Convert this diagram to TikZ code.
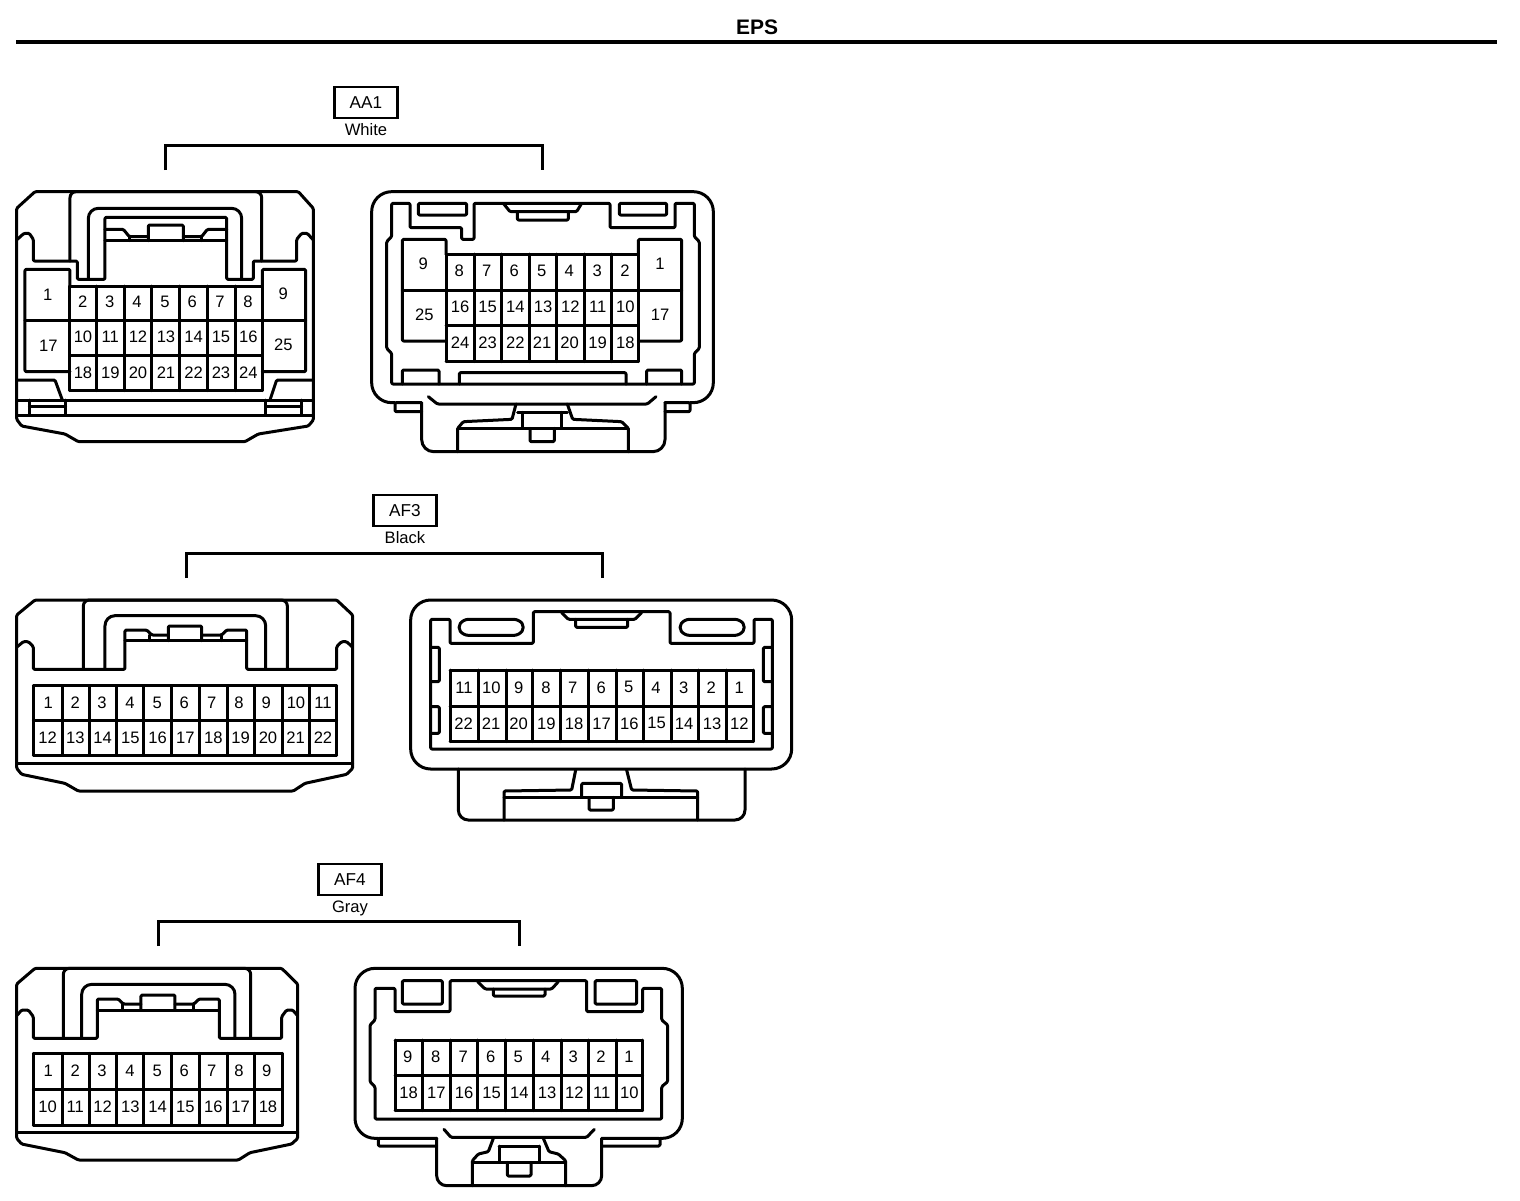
\documentclass[tikz,border=0pt]{standalone}
\usepackage{fontspec}
\setmainfont{Liberation Sans}
\tikzset{
  ln/.style={line width=1.5pt,line join=round,line cap=round,rounded corners=0.6pt},
  pinlabel/.style={inner sep=0pt,font=\fontsize{8.3}{10}\selectfont},
  caplabel/.style={inner sep=0pt,anchor=base,font=\fontsize{8.3}{10}\selectfont},
  tagbox/.style={draw,line width=1.2pt,minimum width=31.5pt,minimum height=15.5pt,inner sep=0pt,font=\fontsize{8.6}{10}\selectfont},
  bracket/.style={line width=1.5pt,line join=miter},
  zone/.style={scale=0.33333}
}
\newcommand\pinrow[3]{\foreach \x/\l in {#3} \node[pinlabel] (#1\l) at (\x,#2) {\l};}
\newcommand\gridv[3]{\foreach \x in {#1} \draw[ln] (\x,#2)--(\x,#3);}
\newcommand\gridh[3]{\foreach \y in {#1} \draw[ln] (#2,\y)--(#3,\y);}
\begin{document}
\begin{tikzpicture}[x=0.5pt,y=-0.5pt]
\path[fill=white,use as bounding box] (0,0) rectangle (1520,1200);
% title
\node[inner sep=0pt,font=\fontsize{10.5}{12}\bfseries\selectfont] (title) at (757,27) {EPS};
\coordinate (rulel) at (16,42); \coordinate (ruler) at (1497,42);
\draw[line width=2pt] (rulel)--(ruler);
% headers
\node[tagbox] (aa1) at (366,102.5) {AA1};
\node[caplabel] (white) at (366,135) {White};
\coordinate (b1l) at (165,170); \coordinate (b1r) at (542,170);
\draw[bracket] (b1l) -- ++(0,-25) -| (b1r);
\node[tagbox] (af3) at (405,510.5) {AF3};
\node[caplabel] (black) at (405,543) {Black};
\coordinate (b2l) at (186,578); \coordinate (b2r) at (602,578);
\draw[bracket] (b2l) -- ++(0,-25) -| (b2r);
\node[tagbox] (af4) at (350,879.5) {AF4};
\node[caplabel] (gray) at (350,912) {Gray};
\coordinate (b3l) at (158,946); \coordinate (b3r) at (519,946);
\draw[bracket] (b3l) -- ++(0,-25) -| (b3r);

% ---------- AA1 left
\begin{scope}[shift={(0,180)},zone]
\draw[ln] (105,35)--(895,35)--(940,85)--(940,720)--(925,738)--(775,762)--(735,785)--(235,785)--(195,762)--(65,738)--(50,718)--(50,85)--cycle;
\draw[ln] (52,178)--(72,160)--(88,160)--(100,178)--(100,243)--(232,243)--(232,298)--(315,298)--(315,112)--(680,112)--(680,298)--(760,298)--(760,243)--(890,243)--(890,178)--(905,160)--(922,160)--(938,178);
\draw[ln,rounded corners=3pt] (210,243)--(210,35)--(785,35)--(785,243);
\draw[ln,rounded corners=5pt] (265,298)--(265,85)--(725,85)--(725,298);
\draw[ln] (315,148)--(370,148)--(388,170)--(445,170);
\draw[ln] (445,182)--(445,135)--(550,135)--(550,182);
\draw[ln] (550,170)--(605,170)--(622,148)--(680,148);
\draw[ln] (315,182)--(680,182);
\draw[ln] (388,170)--(388,182); \draw[ln] (605,170)--(605,182);
\gridv{210,290,373,455,540,622,706,787}{318}{632}
\gridh{318,422,525,632}{210}{787}
\draw[ln] (210,318)--(210,268)--(75,268)--(75,575)--(210,575);
\draw[ln] (787,318)--(787,268)--(917,268)--(917,575)--(787,575);
\draw[ln] (75,422)--(210,422); \draw[ln] (787,422)--(917,422);
\node[pinlabel] (a1) at (143,343) {1};
\node[pinlabel] (a17) at (145,498) {17};
\node[pinlabel] (a9) at (850,342) {9};
\node[pinlabel] (a25) at (850,495) {25};
\pinrow{a}{365}{248/2,329/3,411/4,495/5,577/6,660/7,744/8}
\pinrow{a}{470}{249/10,331/11,414/12,498/13,581/14,663/15,745/16}
\pinrow{a}{577}{249/18,331/19,414/20,498/21,581/22,663/23,745/24}
\draw[ln] (50,600)--(165,600)--(187,660);
\draw[ln] (940,600)--(830,600)--(810,660);
\draw[ln] (50,660)--(940,660);
\draw[ln] (50,705)--(940,705);
\draw[ln] (88,660)--(88,705); \draw[ln] (197,660)--(197,705);
\draw[ln] (88,680)--(197,680);
\draw[ln] (798,660)--(798,705); \draw[ln] (905,660)--(905,705);
\draw[ln] (798,680)--(905,680);
\end{scope}

% ---------- AA1 right
\begin{scope}[shift={(360,180)},zone]
\draw[ln,rounded corners=10pt] (105,668)--(35,668)--(35,35)--(1060,35)--(1060,668)--(990,668);
\draw[ln] (185,668)--(105,668)--(105,695)--(185,695);
\draw[ln] (915,668)--(990,668)--(990,695)--(915,695);
\draw[ln,rounded corners=6pt] (185,668)--(185,815)--(915,815)--(915,668);
\draw[ln] (95,70)--(150,70)--(150,143)--(305,143)--(305,178)--(342,178)--(342,70)--(750,70)--(750,143)--(945,143)--(945,70)--(1003,70)--(1003,170)--(1018,185)--(1018,505)--(1003,520)--(1003,612)--(95,612)--(95,520)--(80,505)--(80,185)--(95,170)--cycle;
\draw[ln] (430,70)--(450,95)--(650,95)--(665,70);
\draw[ln] (472,95)--(472,120)--(625,120)--(625,95);
\draw[ln] (175,70)--(175,105)--(320,105)--(320,70)--cycle;
\draw[ln] (778,70)--(778,105)--(920,105)--(920,70)--cycle;
\gridv{258,342,425,508,590,672,755,835}{222}{545}
\gridh{222,437,545}{258}{835}
\draw[ln] (127,330)--(965,330);
\draw[ln] (258,222)--(258,178)--(127,178)--(127,483)--(258,483);
\draw[ln] (835,222)--(835,178)--(965,178)--(965,483)--(835,483);
\node[pinlabel] (b9) at (190,250) {9};
\node[pinlabel] (b25) at (193,403) {25};
\node[pinlabel] (b1) at (900,250) {1};
\node[pinlabel] (b17) at (900,403) {17};
\pinrow{b}{273}{298/8,380/7,463/6,545/5,628/4,712/3,795/2}
\pinrow{b}{380}{300/16,383/15,466/14,549/13,631/12,713/11,796/10}
\pinrow{b}{488}{300/24,383/23,466/22,546/21,629/20,713/19,796/18}
\draw[ln] (127,612)--(127,570)--(237,570)--(237,612);
\draw[ln] (298,612)--(298,578)--(798,578)--(798,612);
\draw[ln] (860,612)--(860,570)--(965,570)--(965,612);
\draw[ln] (205,650)--(232,672)--(862,672)--(888,650);
\draw[ln] (468,672)--(456,718)--(310,725)--(293,745)--(293,815);
\draw[ln] (622,672)--(638,718)--(785,725)--(805,745)--(805,815);
\draw[ln] (473,697)--(622,697);
\draw[ln] (488,697)--(488,745); \draw[ln] (605,697)--(605,745);
\draw[ln] (293,745)--(805,745);
\draw[ln] (510,745)--(510,785)--(583,785)--(583,745);
\end{scope}

% ---------- AF3 left
\begin{scope}[shift={(0,590)},zone]
\draw[ln] (105,30)--(1010,30)--(1058,75)--(1058,535)--(1040,553)--(915,580)--(880,603)--(235,603)--(195,580)--(65,553)--(50,535)--(50,75)--cycle;
\draw[ln] (52,170)--(70,155)--(85,155)--(100,170)--(100,238)--(375,238)--(375,120)--(440,120)--(455,135)--(505,135);
\draw[ln] (505,152)--(505,108)--(605,108)--(605,152);
\draw[ln] (605,135)--(665,135)--(680,120)--(740,120)--(740,238)--(1010,238)--(1010,170)--(1025,155)--(1040,155)--(1056,170);
\draw[ln] (375,152)--(740,152);
\draw[ln] (450,135)--(450,152); \draw[ln] (665,135)--(665,152);
\draw[ln,rounded corners=3pt] (250,238)--(250,30)--(862,30)--(862,238);
\draw[ln,rounded corners=5pt] (315,238)--(315,77)--(797,77)--(797,238);
\gridv{100,187,268,350,432,515,600,682,763,847,930,1010}{287}{495}
\gridh{287,392,495}{100}{1010}
\draw[ln] (50,520)--(1058,520);
\pinrow{c}{338}{145/1,226/2,306/3,390/4,472/5,553/6,635/7,717/8,799/9,888/10,969/11}
\pinrow{c}{443}{143/12,226/13,308/14,391/15,473/16,556/17,640/18,722/19,804/20,887/21,969/22}
\end{scope}

% ---------- AF3 right
\begin{scope}[shift={(400,590)},zone]
\draw[ln,rounded corners=10pt] (32,30)--(1175,30)--(1175,537)--(32,537)--cycle;
\draw[ln,rounded corners=5pt] (175,537)--(175,690)--(1035,690)--(1035,537);
\draw[ln] (92,88)--(150,88)--(150,160)--(400,160)--(400,65)--(810,65)--(810,160)--(1062,160)--(1062,88)--(1117,88)--(1117,477)--(92,477)--cycle;
\draw[ln] (485,68)--(505,88)--(705,88)--(725,68);
\draw[ln] (527,88)--(527,112)--(683,112)--(683,88);
\draw[ln,rounded corners=2.5pt] (172,112)--(190,88)--(357,88)--(375,112)--(357,136)--(190,136)--cycle;
\draw[ln,rounded corners=2.5pt] (835,112)--(853,88)--(1020,88)--(1038,112)--(1020,136)--(853,136)--cycle;
\draw[ln] (92,172)--(118,172)--(118,275)--(92,275);
\draw[ln] (92,350)--(118,350)--(118,430)--(92,430);
\draw[ln] (1117,172)--(1090,172)--(1090,275)--(1117,275);
\draw[ln] (1117,350)--(1090,350)--(1090,430)--(1117,430);
\gridv{150,235,318,398,482,565,648,730,813,895,978,1060}{240}{455}
\gridh{240,350,455}{150}{1060}
\pinrow{d}{292}{192/11,274/10,356/9,438/8,518/7,604/6,686/5,768/4,851/3,934/2,1018/1}
\pinrow{d}{400}{191/22,273/21,356/20,439/19,522/18,605/17,688/16,770/15,852/14,936/13,1018/12}
\draw[ln] (527,540)--(515,600)--(312,603)--(312,690);
\draw[ln] (680,540)--(695,600)--(893,603)--(893,690);
\draw[ln] (312,622)--(893,622);
\draw[ln] (545,622)--(545,580)--(665,580)--(665,622);
\draw[ln] (567,622)--(567,660)--(640,660)--(640,622);
\end{scope}

% ---------- AF4 left
\begin{scope}[shift={(0,960)},zone]
\draw[ln] (105,25)--(845,25)--(893,72)--(893,535)--(875,552)--(750,578)--(715,600)--(235,600)--(195,578)--(65,552)--(50,535)--(50,72)--cycle;
\draw[ln] (52,165)--(65,150)--(85,150)--(100,170)--(100,235)--(292,235)--(292,117)--(355,117)--(370,132)--(423,132);
\draw[ln] (423,150)--(423,105)--(525,105)--(525,150);
\draw[ln] (525,132)--(582,132)--(597,117)--(658,117)--(658,235)--(845,235)--(845,170)--(860,150)--(878,150)--(891,165);
\draw[ln] (292,150)--(658,150);
\draw[ln] (367,132)--(367,150); \draw[ln] (582,132)--(582,150);
\draw[ln,rounded corners=3pt] (190,235)--(190,25)--(752,25)--(752,235);
\draw[ln,rounded corners=5pt] (245,235)--(245,73)--(705,73)--(705,235);
\gridv{100,187,268,350,432,515,600,682,763,847}{280}{495}
\gridh{280,388,495}{100}{847}
\draw[ln] (50,518)--(893,518);
\pinrow{e}{332}{145/1,226/2,306/3,390/4,472/5,553/6,635/7,717/8,800/9}
\pinrow{e}{440}{143/10,226/11,308/12,391/13,473/14,556/15,640/16,722/17,804/18}
\end{scope}

% ---------- AF4 right
\begin{scope}[shift={(345,960)},zone]
\draw[ln,rounded corners=10pt] (100,535)--(30,535)--(30,25)--(1012,25)--(1012,535)--(945,535);
\draw[ln] (275,535)--(100,535)--(100,558)--(275,558);
\draw[ln] (770,535)--(945,535)--(945,558)--(770,558);
\draw[ln,rounded corners=5pt] (275,535)--(275,677)--(770,677)--(770,535);
\draw[ln] (90,85)--(150,85)--(150,155)--(315,155)--(315,62)--(725,62)--(725,155)--(893,155)--(893,85)--(950,85)--(950,180)--(968,195)--(968,365)--(950,380)--(950,477)--(90,477)--(90,380)--(75,365)--(75,195)--(90,180)--cycle;
\draw[ln] (398,65)--(420,87)--(620,87)--(640,65);
\draw[ln] (445,87)--(445,108)--(600,108)--(600,87);
\draw[ln] (172,62)--(172,132)--(292,132)--(292,62)--cycle;
\draw[ln] (750,62)--(750,132)--(875,132)--(875,62)--cycle;
\gridv{150,232,315,398,482,565,648,730,813,893}{240}{452}
\gridh{240,347,452}{150}{893}
\pinrow{f}{290}{188/9,272/8,355/7,437/6,520/5,602/4,685/3,768/2,852/1}
\pinrow{f}{398}{191/18,274/17,357/16,440/15,523/14,606/13,688/12,770/11,853/10}
\draw[ln] (297,508)--(318,532)--(725,532)--(748,508);
\draw[ln] (445,535)--(430,575)--(400,582)--(382,602)--(382,677);
\draw[ln] (595,535)--(612,575)--(640,582)--(662,602)--(662,677);
\draw[ln] (382,607)--(662,607);
\draw[ln] (462,558)--(462,607); \draw[ln] (582,558)--(582,607);
\draw[ln] (462,558)--(582,558);
\draw[ln] (487,607)--(487,648)--(558,648)--(558,607);
\end{scope}
\end{tikzpicture}
\end{document}
